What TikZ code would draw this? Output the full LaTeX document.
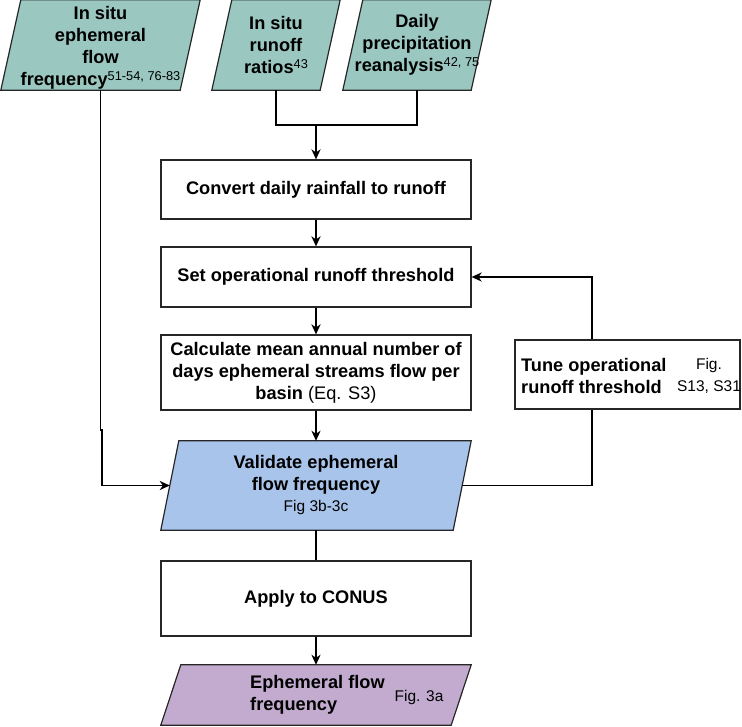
\documentclass[tikz,border=0pt]{standalone}
\usepackage{fontspec}
\setmainfont{Liberation Sans}
\usetikzlibrary{arrows.meta,backgrounds}
\definecolor{tealfill}{HTML}{9AC7BF}
\definecolor{bluefill}{HTML}{A9C4EB}
\definecolor{purplefill}{HTML}{C3ABD0}
\definecolor{bordercol}{HTML}{262626}
\newcommand\bigbold{\fontsize{18.2}{22}\selectfont\bfseries}
\newcommand\smallreg{\fontsize{15.5}{22}\selectfont\mdseries}
\newcommand\refsup[1]{\raisebox{5pt}{\fontsize{12.8}{12.8}\selectfont\mdseries #1}}
\newcommand\paragram[3]{%
  \draw[boxline,fill=#3] ([xshift=#2]#1.north west) -- (#1.north east)
    -- ([xshift=-#2]#1.south east) -- (#1.south west) -- cycle;}
\tikzset{
  conn/.style={line width=1.8pt, draw=black},
  arr/.style={conn, -{Stealth[length=10pt,width=9pt,inset=3pt]}},
  boxline/.style={draw=bordercol, line width=1.2pt},
  procbox/.style={boxline, fill=white, rectangle, inner sep=0pt, align=center, font=\bigbold},
  iobox/.style={rectangle, inner sep=0pt, align=center, font=\bigbold},
  txt/.style={inner sep=0pt, font=\bigbold},
  reg/.style={inner sep=0pt, align=center, font=\smallreg},
}
\begin{document}
\begin{tikzpicture}[x=1pt,y=-1pt]
\useasboundingbox (0,0) rectangle (742,726);

% input parallelograms (text holders)
\node[iobox, minimum width=199pt, minimum height=90pt] (p1) at (100.5,45) {};
\node[txt, align=center] (p1t) at (100.5,47.5)
  {In situ\\ephemeral\\flow\\frequency\refsup{51-54, 76-83}};
\node[iobox, minimum width=128pt, minimum height=90pt] (p2) at (276,45)
  {In situ\\runoff\\ratios\refsup{43}};
\node[iobox, minimum width=148pt, minimum height=90pt] (p3) at (417,45)
  {Daily\\precipitation\\reanalysis\refsup{42, 75}};

% process boxes
\node[procbox, minimum width=310pt, minimum height=59pt] (b1) at (316,189.5)
  {Convert daily rainfall to runoff};
\node[procbox, minimum width=310pt, minimum height=60pt] (b2) at (316,277)
  {Set operational runoff threshold};
\node[procbox, minimum width=310pt, minimum height=75pt] (b3) at (316,372.5)
  {Calculate mean annual number of\\days ephemeral streams flow per\\basin {\mdseries (Eq. S3)}};

\node[iobox, minimum width=310pt, minimum height=89pt] (p4) at (316,485.5)
  {Validate ephemeral\\flow frequency\\[-1pt]{\smallreg Fig 3b-3c}};

\node[procbox, minimum width=310pt, minimum height=75pt] (b5) at (316,598.5)
  {Apply to CONUS};

\node[iobox, minimum width=310pt, minimum height=60pt] (p5) at (316,695) {};
\node[txt, align=left, anchor=west] (p5a) at (250,695) {Ephemeral flow\\frequency};
\node[reg] (p5b) at (419,697) {Fig. 3a};

% tune box
\node[procbox, minimum width=225pt, minimum height=69pt] (bt) at (627.5,374.5) {};
\node[txt, align=left, anchor=west] (bta) at (521,376) {Tune operational\\runoff threshold};
\node[reg] (btb) at (709,376) {Fig.\\S13, S31};

% parallelogram outlines behind the text
\begin{scope}[on background layer]
  \paragram{p1}{20pt}{tealfill}
  \paragram{p2}{20pt}{tealfill}
  \paragram{p3}{20pt}{tealfill}
  \paragram{p4}{18pt}{bluefill}
  \paragram{p5}{20pt}{purplefill}
\end{scope}

% connectors
\coordinate (j) at (316,125);
\draw[conn] (p2.south) |- (j) -| (p3.south);
\draw[arr] (j) -- (b1.north);
\draw[arr] (b1.south) -- (b2.north);
\draw[arr] (b2.south) -- (b3.north);
\draw[arr] (b3.south) -- (p4.north);
\draw[conn] (p4.south) -- (b5.north);
\draw[arr] (b5.south) -- (p5.north);
\coordinate (lk) at ([yshift=-340pt]p1.south);
\draw[arr] (p1.south) -- (lk) -- ++(1.5,0) |- ([xshift=9pt]p4.west);
\coordinate (tb) at ([xshift=-35.5pt]bt.south);
\coordinate (tt) at ([xshift=-35.5pt]bt.north);
\draw[conn] ([xshift=-9pt]p4.east) -| (tb);
\draw[arr] (tt) |- (b2.east);
\end{tikzpicture}
\end{document}
